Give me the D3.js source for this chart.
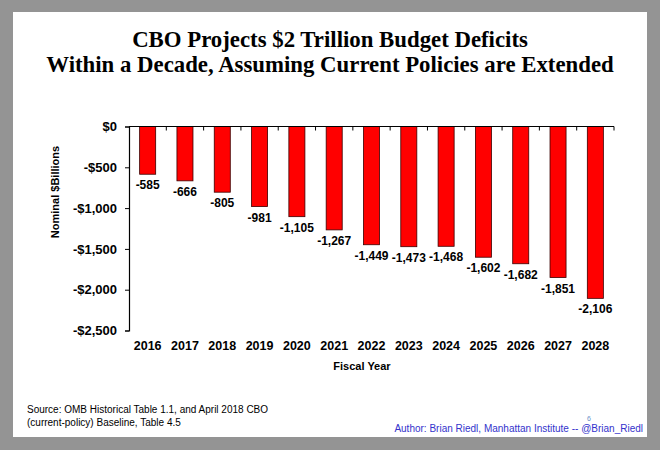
<!DOCTYPE html>
<html><head><meta charset="utf-8">
<script src="https://cdn.jsdelivr.net/npm/d3@7"></script>
<style>body{margin:0;background:#949494;}svg{display:block;}</style>
</head><body><svg id="c" width="660" height="450"></svg>
<script>
const years = ["2016","2017","2018","2019","2020","2021","2022","2023","2024","2025","2026","2027","2028"];
const deficits = [-585,-666,-805,-981,-1105,-1267,-1449,-1473,-1468,-1602,-1682,-1851,-2106];
const yTicks = [0,-500,-1000,-1500,-2000,-2500];
const titleLines = ["CBO Projects $2 Trillion Budget Deficits","Within a Decade, Assuming Current Policies are Extended"];
const sourceLines = ["Source: OMB Historical Table 1.1, and April 2018 CBO","(current-policy) Baseline, Table 4.5"];

const svg = d3.select("#c");
svg.append("rect").attr("x",0).attr("y",0).attr("width",660).attr("height",450).attr("fill","#949494");
svg.append("rect").attr("x",13).attr("y",12).attr("width",634).attr("height",425).attr("fill","#fff");

svg.selectAll("text.title").data(titleLines).enter().append("text")
  .attr("x",330).attr("y",(d,i)=>47+i*24.5).attr("text-anchor","middle")
  .attr("font-family","'Liberation Serif',serif").attr("font-weight","bold").attr("font-size",22.8)
  .attr("fill","#000").text(d=>d);

const x = d3.scaleBand().domain(years).range([129,614]).paddingInner(0.57).paddingOuter(0.285);
const y = d3.scaleLinear().domain([-2500,0]).range([330.5,126.5]);

const gy = svg.append("g").attr("transform","translate(129,0)")
  .call(d3.axisLeft(y).tickValues(yTicks).tickSize(4).tickPadding(8)
    .tickFormat(d=> d===0 ? "$0" : "-$"+d3.format(",")(-d)));
gy.select(".domain").attr("stroke","#000").attr("stroke-width",1.2);
gy.selectAll("text").attr("font-family","Arial,'Liberation Sans',sans-serif").attr("font-weight","bold").attr("font-size",13).attr("fill","#000");

// bars
svg.selectAll("rect.bar").data(deficits).enter().append("rect")
  .attr("x",(d,i)=>x(years[i])).attr("width",x.bandwidth())
  .attr("y",y(0)).attr("height",d=>y(d)-y(0))
  .attr("fill","#ff0000").attr("stroke","#3a0000").attr("stroke-width",0.8);

// x axis at zero
const xb = d3.scaleBand().domain(years).range([129,614]);
svg.append("line").attr("x1",129).attr("x2",614).attr("y1",y(0)).attr("y2",y(0)).attr("stroke","#000").attr("stroke-width",1.2);
svg.selectAll("line.sep").data(years).enter().append("line")
  .attr("x1",d=>xb(d)+xb.bandwidth()).attr("x2",d=>xb(d)+xb.bandwidth())
  .attr("y1",y(0)).attr("y2",y(0)+4).attr("stroke","#000").attr("stroke-width",1);

// value labels
svg.selectAll("text.val").data(deficits).enter().append("text")
  .attr("x",(d,i)=>x(years[i])+x.bandwidth()/2).attr("y",d=>y(d)+15)
  .attr("text-anchor","middle").attr("font-family","Arial,'Liberation Sans',sans-serif")
  .attr("font-weight","bold").attr("font-size",12).attr("fill","#000")
  .text(d=>d3.format(",")(d).replace("−","-"));

// year labels
svg.selectAll("text.yr").data(years).enter().append("text")
  .attr("x",d=>xb(d)+xb.bandwidth()/2).attr("y",350).attr("text-anchor","middle")
  .attr("font-family","Arial,'Liberation Sans',sans-serif").attr("font-weight","bold").attr("font-size",12.5)
  .attr("fill","#000").text(d=>d);

svg.append("text").attr("x",362).attr("y",370).attr("text-anchor","middle")
  .attr("font-family","Arial,'Liberation Sans',sans-serif").attr("font-weight","bold").attr("font-size",11)
  .text("Fiscal Year");

svg.append("text").attr("transform","translate(59,192) rotate(-90)").attr("text-anchor","middle")
  .attr("font-family","Arial,'Liberation Sans',sans-serif").attr("font-weight","bold").attr("font-size",11)
  .text("Nominal $Billions");

svg.selectAll("text.src").data(sourceLines).enter().append("text")
  .attr("x",27).attr("y",(d,i)=>413+i*13)
  .attr("font-family","Arial,'Liberation Sans',sans-serif").attr("font-size",10).attr("fill","#000")
  .text(d=>d);

svg.append("text").attr("x",643).attr("y",432).attr("text-anchor","end")
  .attr("font-family","Arial,'Liberation Sans',sans-serif").attr("font-size",10).attr("fill","#3333cc")
  .text("Author: Brian Riedl, Manhattan Institute -- @Brian_Riedl");
svg.append("text").attr("x",589).attr("y",421).attr("text-anchor","middle")
  .attr("font-family","Arial,'Liberation Sans',sans-serif").attr("font-size",7).attr("fill","#6a8fc8")
  .text("6");
</script></body></html>
